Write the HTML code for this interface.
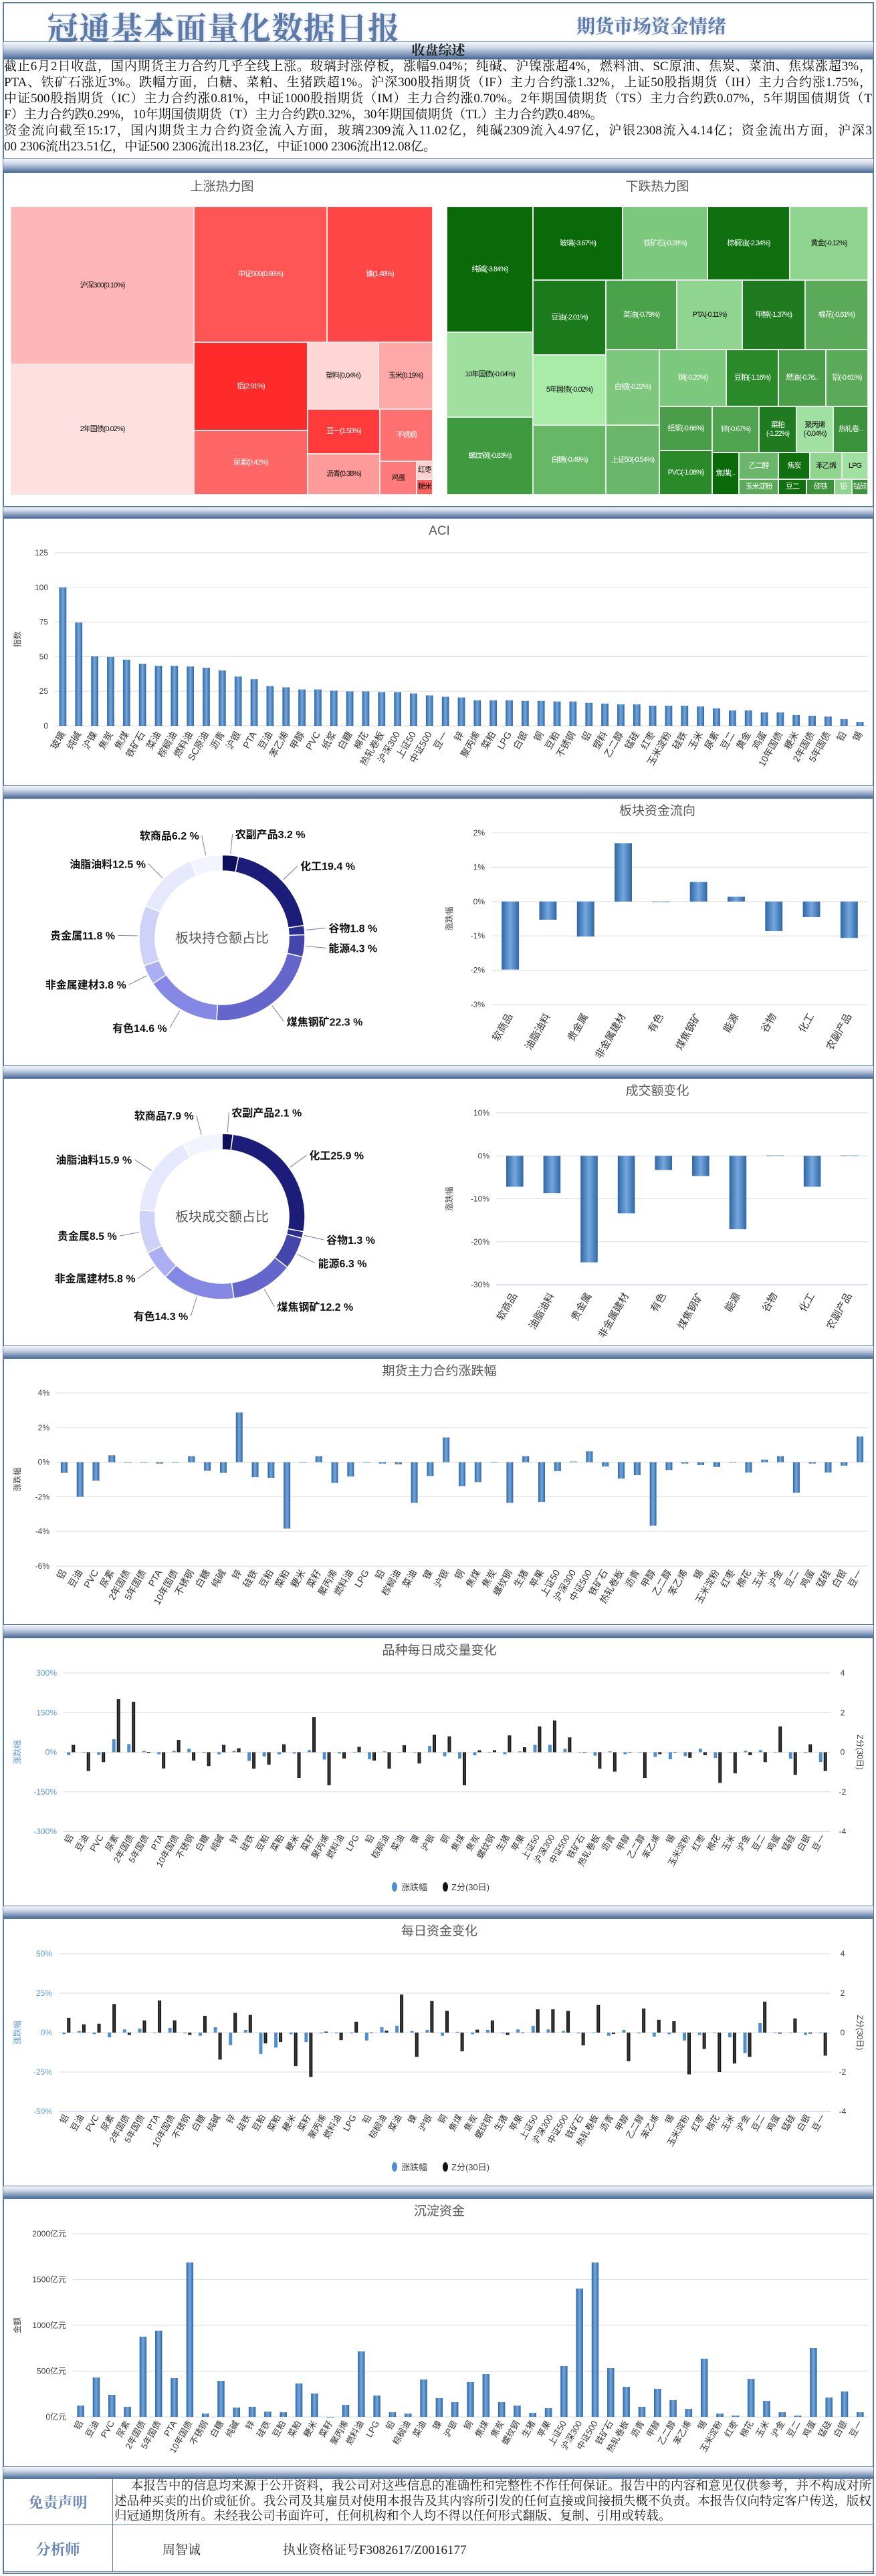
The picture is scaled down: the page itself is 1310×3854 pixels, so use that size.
<!DOCTYPE html>
<html><head><meta charset="utf-8">
<style>
*{margin:0;padding:0;box-sizing:border-box}
body{width:1310px;height:3854px;position:relative;background:#fff;font-family:"Liberation Sans","Noto Sans CJK SC",sans-serif;overflow:hidden}
.frame{position:absolute;left:4px;top:3px;width:1303px;height:3848px;border:2px solid #5b7aa8}
.bar{position:absolute;left:5px;width:1301px;background:linear-gradient(to bottom,#f4f6fa 0%,#cdd7e6 35%,#7d95b8 75%,#4b6b97 100%);border-top:1px solid #5b7aa8;border-bottom:1px solid #5b7aa8}
.title{position:absolute;left:70px;top:6px;font-family:"Liberation Serif","Noto Serif CJK SC",serif;font-size:47px;font-weight:bold;color:#5b7aa8;text-shadow:0 0 6px #c9d3e3;letter-spacing:1px}
.sub{position:absolute;left:862px;top:18px;font-family:"Liberation Serif","Noto Serif CJK SC",serif;font-size:28px;font-weight:bold;color:#5b7aa8;text-shadow:0 0 4px #c9d3e3}
.txt{position:absolute;left:6px;width:1298px;font-family:"Liberation Serif","Noto Serif CJK SC",serif;font-size:19px;line-height:24px;color:#111}
.ln{text-align:justify;text-align-last:justify;white-space:nowrap;overflow:hidden;height:24px}
.ln.l{text-align-last:left}
.tm{position:absolute;border:1px solid #e8e8e8;display:flex;align-items:center;justify-content:center;text-align:center;font-size:11px;color:#111;overflow:hidden;line-height:13px;letter-spacing:-1px}
.tmw{color:#fff}
.foot{position:absolute;font-family:"Liberation Serif","Noto Serif CJK SC",serif}
</style></head><body>
<div class="frame"></div>
<div class="title">冠通基本面量化数据日报</div>
<div class="sub">期货市场资金情绪</div>
<div class="bar" style="top:62px;height:27px;text-align:center;font-family:'Liberation Serif','Noto Serif CJK SC',serif;font-weight:bold;font-size:20px;line-height:26px;color:#222">收盘综述</div>
<div class="txt" style="top:88px">
<div class="ln">截止6月2日收盘，国内期货主力合约几乎全线上涨。玻璃封涨停板，涨幅9.04%；纯碱、沪镍涨超4%，燃料油、SC原油、焦炭、菜油、焦煤涨超3%，</div>
<div class="ln">PTA、铁矿石涨近3%。跌幅方面，白糖、菜粕、生猪跌超1%。沪深300股指期货（IF）主力合约涨1.32%，上证50股指期货（IH）主力合约涨1.75%，</div>
<div class="ln">中证500股指期货（IC）主力合约涨0.81%，中证1000股指期货（IM）主力合约涨0.70%。2年期国债期货（TS）主力合约跌0.07%，5年期国债期货（T</div>
<div class="ln l">F）主力合约跌0.29%，10年期国债期货（T）主力合约跌0.32%，30年期国债期货（TL）主力合约跌0.48%。</div>
<div class="ln">资金流向截至15:17，国内期货主力合约资金流入方面，玻璃2309流入11.02亿，纯碱2309流入4.97亿，沪银2308流入4.14亿；资金流出方面，沪深3</div>
<div class="ln l">00 2306流出23.51亿，中证500 2306流出18.23亿，中证1000 2306流出12.08亿。</div>
</div>
<div class="bar" style="top:237px;height:22px"></div>
<div class="bar" style="top:757px;height:19px"></div>
<div class="bar" style="top:1175px;height:20px"></div>
<div class="bar" style="top:1594px;height:20px"></div>
<div class="bar" style="top:2013px;height:20px"></div>
<div class="bar" style="top:2430px;height:21px"></div>
<div class="bar" style="top:2851px;height:20px"></div>
<div class="bar" style="top:3270px;height:20px"></div>
<div class="bar" style="top:3690px;height:19px"></div>

<div style="position:absolute;left:5px;top:758px;width:1301px;height:1px;background:#5b7aa8"></div>
<div id="tm"></div>

<!-- footer -->
<div style="position:absolute;left:5px;top:3708px;width:1301px;height:140px;border-bottom:1px solid #5b7aa8">
 <div style="position:absolute;left:163px;top:0;width:1px;height:140px;background:#5b7aa8"></div>
 <div style="position:absolute;left:0;top:69px;width:1301px;height:1px;background:#5b7aa8"></div>
 <div class="foot" style="left:0;top:20px;width:163px;text-align:center;font-size:22px;font-weight:bold;color:#6a86b8">免责声明</div>
 <div class="foot" style="left:166px;top:1px;width:1132px;font-size:18.5px;line-height:22.5px;color:#222;text-align:justify">&nbsp;&nbsp;&nbsp;&nbsp;&nbsp;本报告中的信息均来源于公开资料，我公司对这些信息的准确性和完整性不作任何保证。报告中的内容和意见仅供参考，并不构成对所述品种买卖的出价或征价。我公司及其雇员对使用本报告及其内容所引发的任何直接或间接损失概不负责。本报告仅向特定客户传送，版权归冠通期货所有。未经我公司书面许可，任何机构和个人均不得以任何形式翻版、复制、引用或转载。</div>
 <div class="foot" style="left:0;top:90px;width:163px;text-align:center;font-size:22px;font-weight:bold;color:#6a86b8">分析师</div>
 <div class="foot" style="left:238px;top:92px;font-size:19px;color:#222">周智诚</div>
 <div class="foot" style="left:418px;top:92px;font-size:19px;color:#222">执业资格证号F3082617/Z0016177</div>
</div>

<svg id="svg" width="1310" height="3854" style="position:absolute;left:0;top:0" xmlns="http://www.w3.org/2000/svg">
<defs>
<linearGradient id="bg" x1="0" x2="1" y1="0" y2="0"><stop offset="0" stop-color="#2f67a3"/><stop offset="0.5" stop-color="#74a7de"/><stop offset="1" stop-color="#2f67a3"/></linearGradient>
<linearGradient id="kg" x1="0" x2="1"><stop offset="0" stop-color="#000"/><stop offset="0.5" stop-color="#444"/><stop offset="1" stop-color="#000"/></linearGradient>
</defs>
</svg>

<script>
// ===== DATA =====
const aciCats=["玻璃","纯碱","沪镍","焦炭","焦煤","铁矿石","菜油","棕榈油","燃料油","SC原油","沥青","沪银","PTA","豆油","苯乙烯","甲醇","PVC","纸浆","白糖","棉花","热轧卷板","沪深300","上证50","中证500","豆一","锌","聚丙烯","菜粕","LPG","白银","铜","豆粕","不锈钢","铝","塑料","乙二醇","锰硅","红枣","玉米淀粉","硅铁","玉米","尿素","豆二","黄金","鸡蛋","10年国债","粳米","2年国债","5年国债","铅","锡"];
const aciVals=[100,74.6,50.2,49.8,47.8,44.9,43.4,43.4,42.9,42,40,35.6,33.7,28.8,27.8,26.3,26.3,25.4,24.9,24.9,24.4,24.4,23.4,22,21,20.5,18.5,18.5,18.5,18,18,17.6,17.6,16.6,16.1,15.6,15.6,14.6,14.6,14.6,14.1,12.7,11.2,11.2,9.8,9.8,7.8,7.3,6.8,4.9,2.9];
const aciTicks=[0,25,50,75,100,125];

const sectorCats=["软商品","油脂油料","贵金属","非金属建材","有色","煤焦钢矿","能源","谷物","化工","农副产品"];
const holdShare=[6.2,12.5,11.8,3.8,14.6,22.3,4.3,1.8,19.4,3.2];
const turnShare=[7.9,15.9,8.5,5.8,14.3,12.2,6.3,1.3,25.9,2.1];
const fundFlow=[-1.98,-0.53,-1.02,1.7,0,0.57,0.14,-0.86,-0.45,-1.06];
const fundTicks=[-3,-2,-1,0,1,2];
const turnChange=[-7.2,-8.7,-24.8,-13.4,-3.3,-4.7,-17.1,0.1,-7.2,0.1];
const turnTicks=[-30,-20,-10,0,10];

const futCats=["铝","豆油","PVC","尿素","2年国债","5年国债","PTA","10年国债","不锈钢","白糖","纯碱","锌","硅铁","豆粕","菜粕","粳米","菜籽","聚丙烯","燃料油","LPG","铅","棕榈油","菜油","镍","沪银","铜","焦煤","焦炭","螺纹钢","生猪","苹果","上证50","沪深300","中证500","铁矿石","热轧卷板","沥青","甲醇","乙二醇","苯乙烯","锡","玉米淀粉","红枣","棉花","玉米","沪金","豆二","鸡蛋","锰硅","白银","豆一"];
const futChg=[-0.62,-2.0,-1.07,0.4,0,0,-0.08,0,0.35,-0.5,-0.62,2.87,-0.87,-0.9,-3.83,0,0.35,-1.2,-0.83,0,-0.08,-0.12,-2.35,-0.8,1.43,-1.38,-1.15,0,-2.35,0.35,-2.3,-0.52,0.04,0.63,-0.25,-0.95,-0.75,-3.67,-0.45,-0.08,-0.17,-0.28,0,-0.6,0.15,0.35,-1.77,-0.08,-0.6,-0.2,1.48];
const futTicks=[-6,-4,-2,0,2,4];

const volPct=[-11,0,-10,49,31,5,-8,5,13,-3,-8,5,-33,-16,-8,-5,8,-28,-5,0,-27,3,0,0,24,-15,-24,-12,0,-8,3,28,28,13,-2,-13,3,-8,0,-18,-27,-15,13,-22,-2,5,8,0,-25,-3,-37];
const volZ=[0.37,-0.95,-0.5,2.68,2.55,-0.05,-0.82,0.62,-0.42,-0.7,0.37,0.2,-0.83,-0.63,0.4,-1.3,1.77,-1.67,-0.32,0.27,-0.42,-0.83,0.35,-0.57,0.88,0.8,-1.67,0.1,0.1,0.85,0.25,1.3,1.6,0.75,0,-0.83,-0.98,0,-1.3,-0.1,0,-0.28,-0.15,-1.55,-1.07,-0.15,-0.5,1.3,-1.15,0.4,-0.95];
const volTicksL=[-300,-150,0,150,300];
const zTicks=[-4,-2,0,2,4];

const fundPct=[-1,1,-1,-3,2,2.5,0,3,-0.5,-2,3.4,-8,1.7,-13.5,-9.5,-1,-6,-0.5,-0.5,-0.5,-5,3.4,4.3,1,1.7,-2,0.5,-1,1.7,-0.5,2,4.3,2,1,-0.5,0,-2,1.7,-0.5,-2.5,-1,-5,-1.5,0,-3,-13,6,0,0,-1.5,0];
const fundZ=[0.75,0.42,0.45,1.45,-0.12,0.62,1.63,0.62,-0.12,0.85,-1.37,1.0,0.9,-0.55,-0.48,-1.7,-2.25,0.05,-0.38,0.55,0,0.1,1.93,-1.23,1.6,1.1,-0.95,0.15,0.62,-0.12,0,1.18,1.18,1.1,-0.65,1.4,-0.07,-1.45,1.22,0.65,0.58,-2.12,-0.83,-2.0,-1.57,-1.23,1.57,-0.05,0.72,-0.05,-1.17];
const fundTicksL=[-50,-25,0,25,50];

const settled=[124,431,241,110,877,942,424,1687,37,394,102,110,58,51,365,256,0,131,716,234,51,37,409,205,161,380,467,161,124,44,95,555,1402,1687,533,329,110,307,183,88,636,37,15,416,175,51,15,752,212,278,51];
const settledTicks=[0,500,1000,1500,2000];

// ===== HELPERS =====
const S=document.getElementById('svg');
const NS='http://www.w3.org/2000/svg';
function el(tag,attrs,parent){const e=document.createElementNS(NS,tag);for(const k in attrs)e.setAttribute(k,attrs[k]);(parent||S).appendChild(e);return e;}
function txt(x,y,s,attrs,parent){const t=el('text',Object.assign({x:x,y:y,'font-size':13,fill:'#404040','font-family':'Liberation Sans, Noto Sans CJK SC, sans-serif'},attrs||{}),parent);t.textContent=s;return t;}
function lin(d0,d1,r0,r1){return v=>r0+(v-d0)*(r1-r0)/(d1-d0);}

function axisChart(o){
  const g=el('g',{});
  
  
  const y=lin(o.yMin,o.yMax,o.yB,o.yT);
  const n=o.cats.length, step=(o.x1-o.x0)/n;
  const xc=i=>o.x0+step*(i+0.5);
  // grid
  o.ticks.forEach((t,k)=>{
    const gl=el('line',{x1:o.x0,x2:o.x1,y1:y(t),y2:y(t),stroke:(k===0&&o.blueBottom)?'#c3c9f2':'#e0e0e0','stroke-width':1.2},g);
    
    
    const tl=txt(o.x0-10,y(t)+4,(o.fmt?o.fmt(t):t),{'text-anchor':'end','font-size':12,fill:o.tickColor||'#404040'},g);
    
    
  });
  if(o.zTicks){
    const z=lin(o.zMin,o.zMax,o.yB,o.yT);
    o.zTicks.forEach(t=>{const tl=txt(o.x1+18,z(t)+4,t,{'text-anchor':'middle','font-size':12},g);
      
      });
    const yt2=txt(0,0,'Z分(30日)',{'font-size':12,transform:`translate(${o.x1+40},${(o.yT+o.yB)/2}) rotate(90)`,'text-anchor':'middle'},g);
    
    
  }
  // series
  o.series.forEach((s,si)=>{
    const sc=s.z?lin(o.zMin,o.zMax,o.yB,o.yT):y;
    const bw=step*o.bw;
    s.vals.forEach((v,i)=>{
      const off=o.series.length>1?(si===0?-bw/2-1:bw/2+1):0;
      const cx=xc(i)+off;
      const y0=sc(0), yv=sc(v);
      const r=el('rect',{x:cx-bw/2,y:Math.min(y0,yv),width:bw,height:Math.max(Math.abs(yv-y0),0.8),fill:s.fill},g);
      
      
    });
  });
  // category labels
  o.cats.forEach((c,i)=>{
    const lx=xc(i), ly=o.labY;
    const t=txt(0,0,c,{'text-anchor':'end','font-size':o.labSize||13,fill:'#333',transform:`translate(${lx+4},${ly}) rotate(${o.rot||-60})`},g);
    
    
  });
  const tt=txt(o.titleX||657,o.titleY,o.title,{'text-anchor':'middle','font-size':o.titleSize||19,fill:'#595959'},g);
  
  
  if(o.yTitle){const yt=txt(0,0,o.yTitle,{'font-size':12,fill:o.tickColor||'#404040','text-anchor':'middle',transform:`translate(${o.yTitleX},${(o.yT+o.yB)/2}) rotate(-90)`},g);
    
    }
  if(o.legendY){
    const lg=el('g',{},g);
    
    
    el('ellipse',{cx:590,cy:o.legendY-5,rx:4,ry:7,fill:'#4f8fd0'},lg);
    txt(600,o.legendY,'涨跌幅',{'font-size':13},lg);
    el('ellipse',{cx:666,cy:o.legendY-5,rx:4,ry:7,fill:'#111'},lg);
    txt(675,o.legendY,'Z分(30日)',{'font-size':13},lg);
  }
}

function donut(o){
  const g=el('g',{});
  
  
  const colors=['#f3f4ff','#e6e8fd','#cfd2f8','#aaaef2','#8487e4','#6466cc','#4446ac','#2b2d8f','#1c1d78','#0d0e5c'];
  // order clockwise from top: 农副,化工,谷物,能源,煤焦,有色,非金属,贵金属,油脂,软商品
  const order=[9,8,7,6,5,4,3,2,1,0];
  const tot=o.vals.reduce((a,b)=>a+b,0);
  let a=0;
  order.forEach((idx,k)=>{
    const v=o.vals[idx], a0=a, a1=a+v/tot*Math.PI*2; a=a1;
    const p=(ang,r)=>[o.cx+r*Math.sin(ang),o.cy-r*Math.cos(ang)];
    const [x0,y0]=p(a0,o.R),[x1,y1]=p(a1,o.R),[x2,y2]=p(a1,o.r),[x3,y3]=p(a0,o.r);
    const lg=(a1-a0)>Math.PI?1:0;
    const path=el('path',{d:`M${x0},${y0}A${o.R},${o.R} 0 ${lg} 1 ${x1},${y1}L${x2},${y2}A${o.r},${o.r} 0 ${lg} 0 ${x3},${y3}Z`,fill:colors[9-k],stroke:'#fff','stroke-width':1.5},g);
    
    
    const m=(a0+a1)/2, [lx0,ly0]=p(m,o.R+2), [lx1,ly1]=p(m,o.R+32);
    el('line',{x1:lx0,y1:ly0,x2:lx1,y2:ly1,stroke:'#7a7ab8','stroke-width':1},g);
    const right=Math.sin(m)>=0;
    const t=txt(lx1+(right?4:-4),ly1+6,sectorCats[idx]+v.toFixed(1)+' %',{'text-anchor':right?'start':'end','font-size':16,'font-weight':'bold',fill:'#111',transform:`translate(0,0)`},g);
    
    
  });
  const ct=txt(o.cx,o.cy+7,o.center,{'text-anchor':'middle','font-size':20,fill:'#595959'},g);
  
  
}

// ===== CHARTS =====
axisChart({name:'aci-chart',cats:aciCats,series:[{vals:aciVals,fill:'url(#bg)',label:'aci'}],x0:82,x1:1298,yMin:0,yMax:125,yB:1086,yT:827,ticks:aciTicks,bw:0.45,labY:1098,title:'ACI',titleY:800,yTitle:'指数',yTitleX:30,labSize:14});

donut({name:'holding-donut',vals:holdShare,cx:332,cy:1403,R:124,r:100,center:'板块持仓额占比'});
axisChart({name:'sector-fund-flow-chart',cats:sectorCats,series:[{vals:fundFlow,fill:'url(#bg)',label:'fund-flow'}],x0:735,x1:1298,yMin:-3,yMax:2,yB:1503,yT:1246,ticks:fundTicks,fmt:t=>t+'%',bw:0.46,labY:1520,title:'板块资金流向',titleX:983,titleY:1219,yTitle:'涨跌幅',yTitleX:676,labSize:15});

donut({name:'turnover-donut',vals:turnShare,cx:332,cy:1820,R:124,r:100,center:'板块成交额占比'});
axisChart({name:'turnover-change-chart',cats:sectorCats,series:[{vals:turnChange,fill:'url(#bg)',label:'turnover-change'}],x0:742,x1:1298,yMin:-30,yMax:10,yB:1922,yT:1665,ticks:turnTicks,fmt:t=>t+'%',bw:0.46,labY:1938,title:'成交额变化',titleX:983,titleY:1638,yTitle:'涨跌幅',yTitleX:676,labSize:15,blueBottom:true});

axisChart({name:'contract-change-chart',cats:futCats,series:[{vals:futChg,fill:'url(#bg)',label:'contract-change'}],x0:84,x1:1298,yMin:-6,yMax:4,yB:2343,yT:2084,ticks:futTicks,fmt:t=>t+'%',bw:0.42,labY:2352,title:'期货主力合约涨跌幅',titleY:2057,yTitle:'涨跌幅',yTitleX:30,labSize:14});

axisChart({name:'daily-volume-chart',cats:futCats,series:[{vals:volPct,fill:'#4f8fd0',label:'volume-pct'},{vals:volZ,fill:'url(#kg)',z:true,label:'volume-z'}],x0:95,x1:1242,yMin:-300,yMax:300,zMin:-4,zMax:4,zTicks:zTicks,yB:2740,yT:2503,ticks:volTicksL,fmt:t=>t+'%',tickColor:'#5b9bd5',bw:0.22,labY:2748,title:'品种每日成交量变化',titleY:2475,yTitle:'涨跌幅',yTitleX:30,legendY:2828,blueBottom:true,labSize:13});

axisChart({name:'daily-fund-chart',cats:futCats,series:[{vals:fundPct,fill:'#4f8fd0',label:'fund-pct'},{vals:fundZ,fill:'url(#kg)',z:true,label:'fund-z'}],x0:88,x1:1242,yMin:-50,yMax:50,zMin:-4,zMax:4,zTicks:zTicks,yB:3159,yT:2923,ticks:fundTicksL,fmt:t=>t+'%',tickColor:'#5b9bd5',bw:0.22,labY:3167,title:'每日资金变化',titleY:2895,yTitle:'涨跌幅',yTitleX:30,legendY:3247,blueBottom:true,labSize:13});

axisChart({name:'settled-fund-chart',cats:futCats,series:[{vals:settled,fill:'url(#bg)',label:'settled-fund'}],x0:109,x1:1298,yMin:0,yMax:2000,yB:3616,yT:3342,ticks:settledTicks,fmt:t=>t+'亿元',bw:0.45,labY:3625,title:'沉淀资金',titleY:3314,yTitle:'金额',yTitleX:30,labSize:13});

// ===== TREEMAPS =====
const tmUp=[["沪深300(0.10%)",16,309,290,545,"#ffb6b6"],["2年国债(0.02%)",16,545,290,740,"#ffe0e0"],["中证500(0.66%)",290,309,489,512,"#ff5555",1],["镍(1.48%)",489,309,647,512,"#ff4646",1],["铝(2.91%)",290,512,460,644,"#ff2a2a",1],["尿素(0.42%)",290,644,460,740,"#ff6666",1],["塑料(0.04%)",460,512,566,612,"#ffd6d6"],["玉米(0.19%)",566,512,647,612,"#ffa8a8"],["豆一(1.50%)",460,612,568,679,"#ff3a3a",1],["沥青(0.38%)",460,679,568,740,"#ff9a9a"],["不锈钢",568,612,647,690,"#ff7070",1],["鸡蛋",568,690,623,740,"#ff7a7a"],["红枣",623,690,647,717,"#ffd0d0"],["粳米",623,717,647,740,"#ff6060"]];
const tmDown=[["纯碱(-3.84%)",668,309,797,497,"#0a6a0a",1],["10年国债(-0.04%)",668,497,797,624,"#9fe09f"],["螺纹钢(-0.83%)",668,624,797,740,"#3f9a3f",1],["玻璃(-3.67%)",797,309,931,419,"#0a6a0a",1],["铁矿石(-0.28%)",931,309,1058,419,"#7cc87c",1],["棕榈油(-2.34%)",1058,309,1181,419,"#107010",1],["黄金(-0.12%)",1181,309,1298,419,"#8fd48f"],["豆油(-2.01%)",797,419,906,531,"#1b7a1b",1],["菜油(-0.79%)",906,419,1012,523,"#4aa24a",1],["PTA(-0.11%)",1012,419,1110,523,"#8fd48f"],["甲醇(-1.37%)",1110,419,1204,523,"#207a20",1],["棉花(-0.61%)",1204,419,1298,523,"#5aaa5a",1],["5年国债(-0.02%)",797,531,906,636,"#a8eca8"],["白糖(-0.49%)",797,636,906,740,"#66b866",1],["白银(-0.22%)",906,523,986,636,"#7ec87e",1],["上证50(-0.54%)",906,636,986,740,"#6ab66a",1],["铜(-0.20%)",986,523,1086,608,"#7cc87c",1],["豆粕(-1.16%)",1086,523,1164,608,"#2a8a2a",1],["燃油(-0.76...",1164,523,1235,608,"#4a9e4a",1],["铝(-0.61%)",1235,523,1298,608,"#5aaa5a",1],["纸浆(-0.66%)",986,608,1065,674,"#4a9e4a",1],["锌(-0.67%)",1065,608,1135,677,"#50a450",1],["菜粕(-1.22%)",1135,608,1191,677,"#207a20",1],["聚丙烯(-0.04%)",1191,608,1246,677,"#a0e0a0"],["热轧卷...",1246,608,1298,677,"#3a923a",1],["PVC(-1.08%)",986,674,1065,740,"#2a8a2a",1],["焦煤(...",1065,677,1105,740,"#0a6a0a",1],["乙二醇",1105,677,1164,717,"#6ab66a",1],["焦炭",1164,677,1211,717,"#107010",1],["苯乙烯",1211,677,1259,717,"#8fd48f"],["LPG",1259,677,1298,717,"#a0e0a0"],["玉米淀粉",1105,717,1164,740,"#5aaa5a",1],["豆二",1164,717,1206,740,"#107010",1],["硅铁",1206,717,1248,740,"#3a923a",1],["铅",1248,717,1274,740,"#8fd48f",1],["锰硅",1274,717,1298,740,"#3a923a",1]];
const tm=document.getElementById('tm');
function drawTm(list,nm){
  list.forEach(d=>{
    const e=document.createElement('div');
    e.className='tm'+(d[6]?' tmw':'');
    e.style.left=d[1]+'px';e.style.top=d[2]+'px';e.style.width=(d[3]-d[1])+'px';e.style.height=(d[4]-d[2])+'px';e.style.background=d[5];
    e.textContent=d[0];
    
    
    tm.appendChild(e);
  });
}
drawTm(tmUp,'rise-heatmap');
drawTm(tmDown,'fall-heatmap');
[["上涨热力图",332],["下跌热力图",983]].forEach(t=>{
  const e=document.createElement('div');
  e.style.cssText=`position:absolute;top:264px;left:${t[1]-60}px;width:120px;text-align:center;font-size:19px;color:#595959`;
  e.textContent=t[0];
  
  
  tm.appendChild(e);
});
</script>
</body></html>
